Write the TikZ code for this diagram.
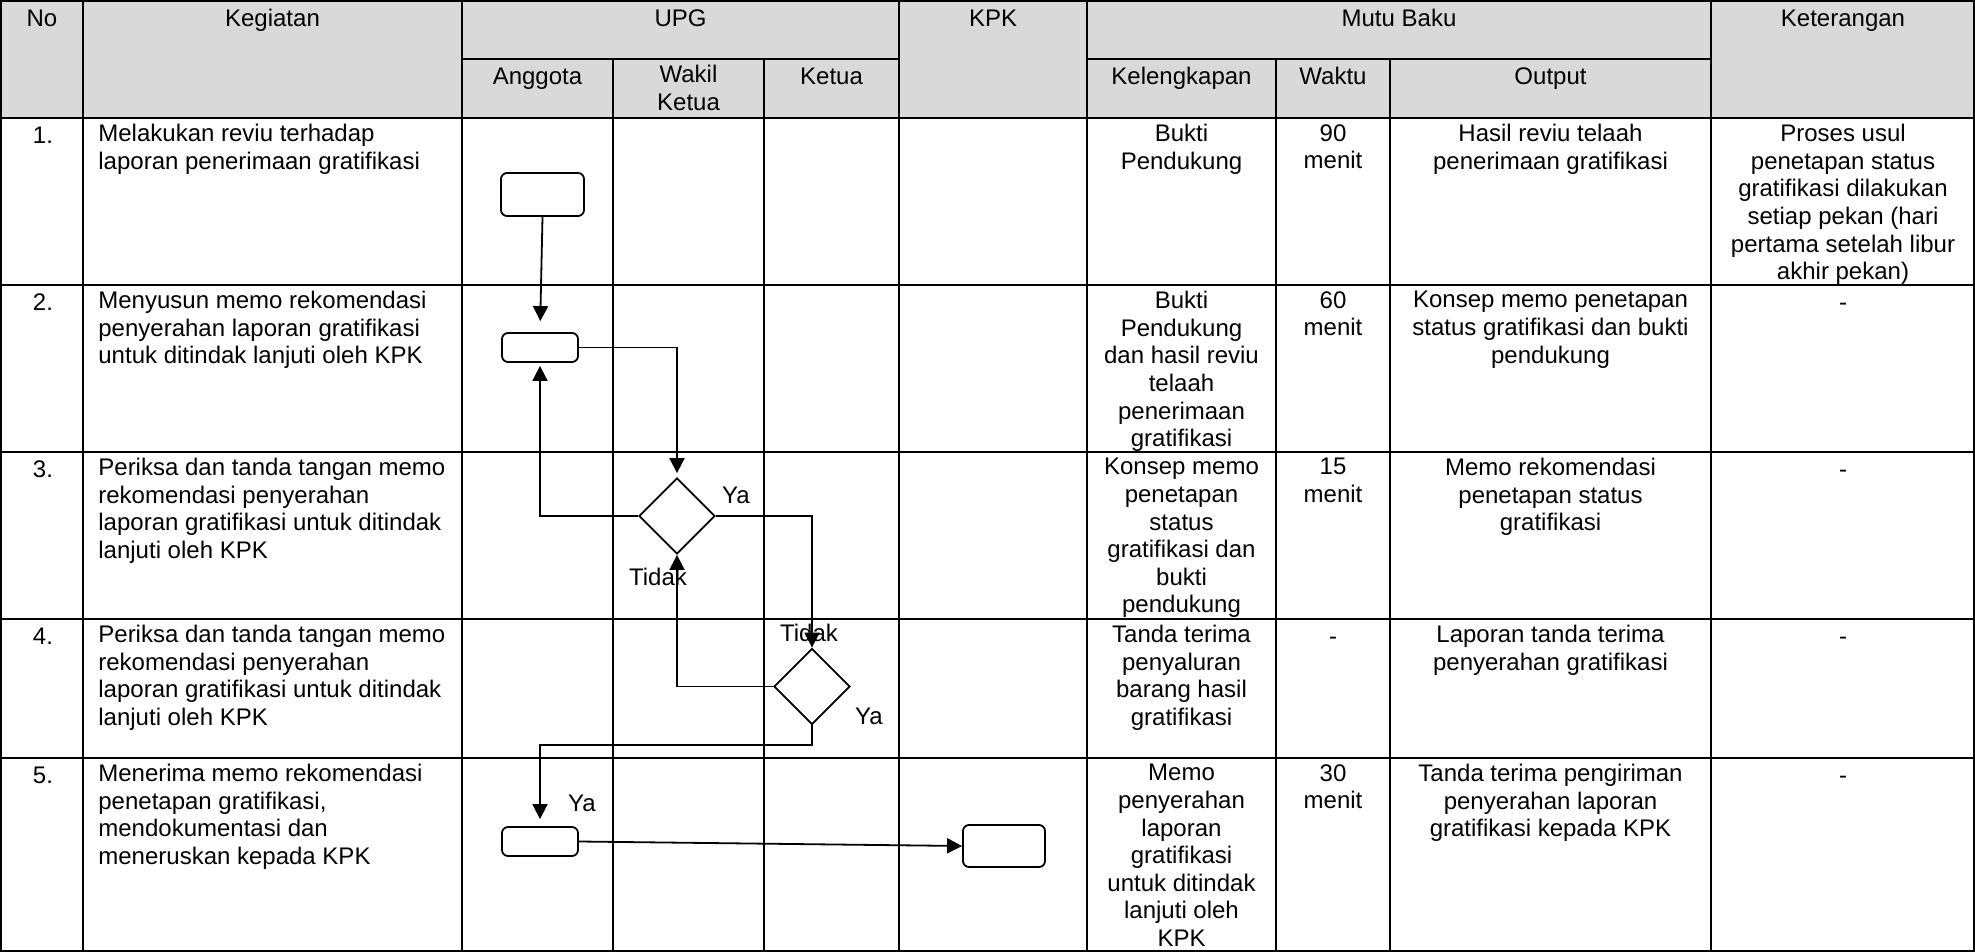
\documentclass[tikz,border=0pt]{standalone}
\usepackage{fontspec}
\setmainfont{Liberation Sans}
\usetikzlibrary{shapes.geometric,arrows.meta}
\begin{document}
\begin{tikzpicture}[x=0.5pt,y=-0.5pt,
  every node/.style={font=\fontsize{12}{13.8}\selectfont},
  grid/.style={line width=1pt},
  outer/.style={line width=1.4pt},
  ctext/.style={anchor=north,align=center,inner sep=0pt,execute at begin node=\strut},
  ltext/.style={anchor=north west,align=left,inner sep=0pt,execute at begin node=\strut},
  proc/.style={draw,rounded corners=3pt,line width=0.9pt,inner sep=0pt},
  dec/.style={draw,diamond,line width=0.9pt,inner sep=0pt,minimum width=38pt,minimum height=38pt},
  arr/.style={line width=0.9pt,-{Triangle[length=7.5pt,width=7.5pt]}},
  lbl/.style={inner sep=0pt}
]
\useasboundingbox (0,0) rectangle (1975,952);
% header fill
\fill[gray!30] (1,1) rectangle (1974,118);
% grid
\foreach \yy in {118,285,452,619,758} {\draw[grid] (1,\yy) -- (1974,\yy);}
\draw[grid] (462,59) -- (899,59);
\draw[grid] (1087,59) -- (1711,59);
\foreach \xx in {83,462,899,1087,1711} {\draw[grid] (\xx,1) -- (\xx,951);}
\foreach \xx in {613,764,1276,1390} {\draw[grid] (\xx,59) -- (\xx,951);}
\draw[outer] (1,1) rectangle (1974,951);

% header texts
\node[ctext] (hNo) at (42,7) {No};
\node[ctext] (hKeg) at (272.5,7) {Kegiatan};
\node[ctext] (hUPG) at (680.5,7) {UPG};
\node[ctext] (hKPK) at (993,7) {KPK};
\node[ctext] (hMB) at (1399,7) {Mutu Baku};
\node[ctext] (hKet) at (1843,7) {Keterangan};
\node[ctext] (hAng) at (537.5,65) {Anggota};
\node[ctext] (hWK) at (688.5,65) {Wakil\\Ketua};
\node[ctext] (hKetua) at (831.5,65) {Ketua};
\node[ctext] (hKel) at (1181.5,65) {Kelengkapan};
\node[ctext] (hWak) at (1333,65) {Waktu};
\node[ctext] (hOut) at (1550.5,65) {Output};

% row 1
\node[ctext] (n1) at (43,124) {1.};
\node[ltext] (k1) at (98,124) {Melakukan reviu terhadap\\laporan penerimaan gratifikasi};
\node[ctext] (l1) at (1181.5,124) {Bukti\\Pendukung};
\node[ctext] (w1) at (1333,124) {90\\menit};
\node[ctext] (o1) at (1550.5,124) {Hasil reviu telaah\\penerimaan gratifikasi};
\node[ctext] (e1) at (1843,124) {Proses usul\\penetapan status\\gratifikasi dilakukan\\setiap pekan (hari\\pertama setelah libur\\akhir pekan)};

% row 2
\node[ctext] (n2) at (43,291) {2.};
\node[ltext] (k2) at (98,291) {Menyusun memo rekomendasi\\penyerahan laporan gratifikasi\\untuk ditindak lanjuti oleh KPK};
\node[ctext] (l2) at (1181.5,291) {Bukti\\Pendukung\\dan hasil reviu\\telaah\\penerimaan\\gratifikasi};
\node[ctext] (w2) at (1333,291) {60\\menit};
\node[ctext] (o2) at (1550.5,291) {Konsep memo penetapan\\status gratifikasi dan bukti\\pendukung};
\node[ctext] (e2) at (1843,291) {-};

% row 3
\node[ctext] (n3) at (43,458) {3.};
\node[ltext] (k3) at (98,458) {Periksa dan tanda tangan memo\\rekomendasi penyerahan\\laporan gratifikasi untuk ditindak\\lanjuti oleh KPK};
\node[ctext] (l3) at (1181.5,458) {Konsep memo\\penetapan\\status\\gratifikasi dan\\bukti\\pendukung};
\node[ctext] (w3) at (1333,458) {15\\menit};
\node[ctext] (o3) at (1550.5,458) {Memo rekomendasi\\penetapan status\\gratifikasi};
\node[ctext] (e3) at (1843,458) {-};

% row 4
\node[ctext] (n4) at (43,625) {4.};
\node[ltext] (k4) at (98,625) {Periksa dan tanda tangan memo\\rekomendasi penyerahan\\laporan gratifikasi untuk ditindak\\lanjuti oleh KPK};
\node[ctext] (l4) at (1181.5,625) {Tanda terima\\penyaluran\\barang hasil\\gratifikasi};
\node[ctext] (w4) at (1333,625) {-};
\node[ctext] (o4) at (1550.5,625) {Laporan tanda terima\\penyerahan gratifikasi};
\node[ctext] (e4) at (1843,625) {-};

% row 5
\node[ctext] (n5) at (43,764) {5.};
\node[ltext] (k5) at (98,764) {Menerima memo rekomendasi\\penetapan gratifikasi,\\mendokumentasi dan\\meneruskan kepada KPK};
\node[ctext] (l5) at (1181.5,764) {Memo\\penyerahan\\laporan\\gratifikasi\\untuk ditindak\\lanjuti oleh\\KPK};
\node[ctext] (w5) at (1333,764) {30\\menit};
\node[ctext] (o5) at (1550.5,764) {Tanda terima pengiriman\\penyerahan laporan\\gratifikasi kepada KPK};
\node[ctext] (e5) at (1843,764) {-};

% flowchart shapes
\node[proc,minimum width=41.5pt,minimum height=21.5pt] (A) at (542.5,194.5) {};
\node[proc,minimum width=38pt,minimum height=14.5pt] (B) at (540,347.5) {};
\node[dec] (D1) at (677,516) {};
\node[dec] (D2) at (812,686.5) {};
\node[proc,minimum width=38pt,minimum height=14.5pt] (C) at (540,841.5) {};
\node[proc,minimum width=41pt,minimum height=21pt] (D) at (1004,846) {};
\coordinate (j1) at (812,745);

% connectors
\draw[arr,shorten >=5.5pt] (A.south) -- (B.north);
\draw[arr,shorten >=2pt] (B.east) -| (D1.north);
\draw[arr,shorten >=1.5pt] (D1.west) -| (B.south);
\draw[arr] (D1.east) -| (D2.north);
\draw[arr] (D2.west) -| (D1.south);
\draw[arr,shorten >=3.5pt] (D2.south) -- (j1) -| (C.north);
\draw[arr] (C.east) -- (D.west);

% labels
\node[lbl] (ya1) at (736,495) {Ya};
\node[lbl] (td1) at (809,633) {Tidak};
\node[lbl] (td2) at (658,577) {Tidak};
\node[lbl] (ya2) at (869,716) {Ya};
\node[lbl] (ya3) at (582,803) {Ya};
\end{tikzpicture}
\end{document}
